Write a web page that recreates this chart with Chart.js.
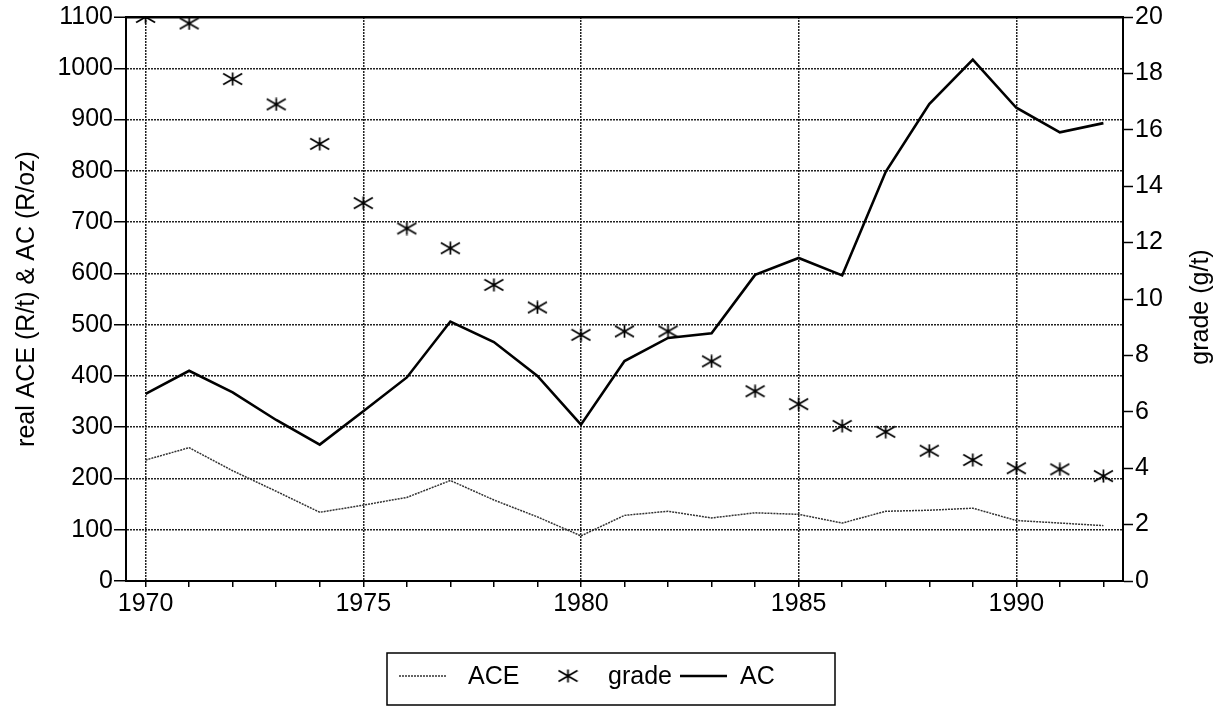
<!DOCTYPE html>
<html>
<head>
<meta charset="utf-8">
<script src="https://cdn.jsdelivr.net/npm/chart.js@4"></script>
<style>
  html, body { margin: 0; padding: 0; background: #fff; }
  #wrap { width: 1224px; height: 706px; position: relative; }
</style>
</head>
<body>
<div id="wrap"><canvas id="chart"></canvas></div>
<script>
// data
const years = [1970, 1971, 1972, 1973, 1974, 1975, 1976, 1977, 1978, 1979, 1980, 1981,
               1982, 1983, 1984, 1985, 1986, 1987, 1988, 1989, 1990, 1991, 1992];
const ace = [236, 260, 215, 175, 134, 148, 163, 196, 158, 125, 88, 128,
             136, 123, 133, 130, 113, 136, 138, 142, 118, 113, 108];
const grade = [20.0, 19.77, 17.8, 16.9, 15.5, 13.4, 12.5, 11.8, 10.5, 9.7, 8.73, 8.85,
               8.85, 7.79, 6.73, 6.27, 5.5, 5.29, 4.62, 4.29, 4.0, 3.96, 3.72];
const ac = [365, 410, 368, 314, 266, 331, 397, 506, 466, 400, 305, 429,
            474, 483, 597, 630, 596, 798, 930, 1017, 923, 875, 893];
const leftTicks = [0, 100, 200, 300, 400, 500, 600, 700, 800, 900, 1000, 1100];
const rightTicks = [0, 2, 4, 6, 8, 10, 12, 14, 16, 18, 20];
const rightTitle = 'grade (g/t)';

const FONT = "'Liberation Sans', Arial, Helvetica, sans-serif";
Chart.defaults.font.family = FONT;
Chart.defaults.font.size = 24;
Chart.defaults.color = '#000';

// asterisk marker like the scan
function makeStar(w, h) {
  const c = document.createElement('canvas');
  c.width = w; c.height = h;
  const g = c.getContext('2d');
  g.strokeStyle = '#000';
  g.lineWidth = 1.7;
  g.beginPath();
  g.moveTo(w / 2, 0.5); g.lineTo(w / 2, h - 0.5);
  g.moveTo(1, 1.5); g.lineTo(w - 1, h - 1.5);
  g.moveTo(1, h - 1.5); g.lineTo(w - 1, 1.5);
  g.stroke();
  return c;
}
const star = makeStar(21, 14);

const gridDash = [2, 1];

// boxed legend under the plot + right title read bottom-to-top like the scan
const legendBox = {
  id: 'legendBox',
  afterDraw(chart) {
    const ctx = chart.ctx;
    const ds = chart.data.datasets;
    const slots = [{ x: 399, tx: 468 }, { x: 545, tx: 608 }, { x: 680, tx: 740 }];
    const cy = 676;
    ctx.save();
    ctx.strokeStyle = '#000';
    ctx.lineWidth = 1.5;
    ctx.setLineDash([]);
    ctx.strokeRect(387, 653, 448, 52);
    ctx.font = '25px ' + FONT;
    ctx.textBaseline = 'middle';
    ctx.fillStyle = '#000';
    ds.forEach((d, i) => {
      const s = slots[i];
      if (d.showLine === false) {
        ctx.drawImage(d.pointStyle, s.x + 23 - d.pointStyle.width / 2, cy - d.pointStyle.height / 2);
      } else {
        ctx.beginPath();
        ctx.strokeStyle = d.borderColor;
        ctx.lineWidth = d.borderWidth;
        ctx.setLineDash(d.borderDash || []);
        ctx.moveTo(s.x, cy);
        ctx.lineTo(s.x + 47, cy);
        ctx.stroke();
        ctx.setLineDash([]);
      }
      ctx.fillText(d.label, s.tx, cy + 1);
    });

    const area = chart.chartArea;
    ctx.translate(1201, (area.top + area.bottom) / 2 + 8);
    ctx.rotate(-Math.PI / 2);
    ctx.textAlign = 'center';
    ctx.fillText(rightTitle, 0, 0);
    ctx.restore();
  }
};

new Chart(document.getElementById('chart'), {
  type: 'line',
  data: {
    datasets: [
      {
        label: 'ACE',
        data: years.map((y, i) => ({ x: y, y: ace[i] })),
        yAxisID: 'y',
        borderColor: '#333',
        borderWidth: 1.5,
        borderDash: [2, 1],
        pointRadius: 0,
        tension: 0
      },
      {
        label: 'grade',
        data: years.map((y, i) => ({ x: y, y: grade[i] })),
        yAxisID: 'y1',
        showLine: false,
        pointStyle: star,
        pointRadius: 8,
        borderColor: '#000',
        backgroundColor: '#000'
      },
      {
        label: 'AC',
        data: years.map((y, i) => ({ x: y, y: ac[i] })),
        yAxisID: 'y',
        borderColor: '#000',
        borderWidth: 2.6,
        pointRadius: 0,
        tension: 0
      }
    ]
  },
  options: {
    responsive: true,
    maintainAspectRatio: false,
    animation: false,
    layout: { padding: { top: 17, left: 0, right: 0, bottom: 0 } },
    plugins: {
      legend: { display: false },
      tooltip: { enabled: false }
    },
    scales: {
      x: {
        type: 'linear',
        min: 1969.55,
        max: 1992.45,
        afterBuildTicks(scale) { scale.ticks = years.map(v => ({ value: v })); },
        afterFit(scale) { scale.height = 125; },
        ticks: {
          padding: 2,
          maxRotation: 0,
          autoSkip: false,
          font: { size: 25 },
          callback: v => (v % 5 === 0 ? String(v) : '')
        },
        grid: {
          color: c => (c.tick && c.tick.value % 5 === 0 ? '#222' : 'rgba(0,0,0,0)'),
          lineWidth: 1.5,
          tickColor: '#000',
          tickWidth: 1.5,
          tickLength: 6
        },
        border: { display: true, color: '#000', width: 2, dash: gridDash }
      },
      y: {
        position: 'left',
        min: 0,
        max: 1100,
        afterBuildTicks(scale) { scale.ticks = leftTicks.map(v => ({ value: v })); },
        afterFit(scale) { scale.width = 126; },
        ticks: { padding: 1, font: { size: 25 }, callback: v => String(v) },
        grid: {
          color: c => (c.tick && c.tick.value === 1100 ? '#000' : '#222'),
          lineWidth: c => (c.tick && c.tick.value === 1100 ? 2.5 : 1.5),
          tickColor: '#000',
          tickWidth: 1.5,
          tickLength: 12
        },
        border: {
          display: true, color: '#000', width: 2,
          dash: c => (c.tick && c.tick.value === 1100 ? [] : gridDash)
        },
        title: {
          display: true,
          text: 'real ACE (R/t) & AC (R/oz)',
          font: { size: 25 },
          padding: { top: 12, bottom: 0 }
        }
      },
      y1: {
        position: 'right',
        min: 0,
        max: 20,
        afterBuildTicks(scale) { scale.ticks = rightTicks.map(v => ({ value: v })); },
        afterFit(scale) { scale.width = 101; },
        ticks: { padding: 2, font: { size: 25 }, callback: v => String(v) },
        grid: {
          drawOnChartArea: false,
          tickColor: '#000',
          tickWidth: 1.5,
          tickLength: 10
        },
        border: { display: true, color: '#000', width: 2 },
        title: { display: false }
      }
    }
  },
  plugins: [legendBox]
});
</script>
</body>
</html>
